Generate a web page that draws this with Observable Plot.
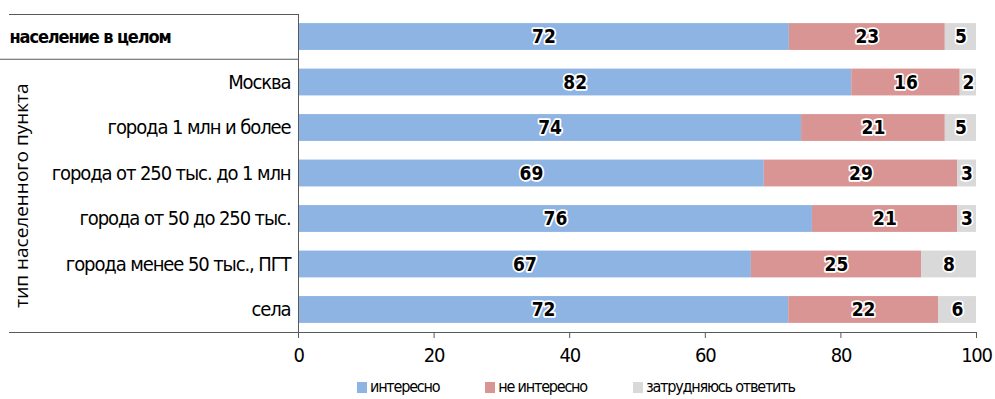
<!DOCTYPE html>
<html>
<head>
<meta charset="utf-8">
<script src="https://cdn.jsdelivr.net/npm/d3@7"></script>
<script src="https://cdn.jsdelivr.net/npm/@observablehq/plot@0.6"></script>
<style>
  body { margin: 0; background: #fff; }
  #chart { position: relative; width: 995px; height: 399px; overflow: hidden; }
  #chart svg { display: block; }
  .legend { position: absolute; left: 357px; top: 377px; display: flex; gap: 46px;
            font-family: "DejaVu Sans Condensed", "DejaVu Sans", sans-serif;
            font-stretch: condensed; font-size: 16px; letter-spacing: -1.2px; color: #000; line-height: 20px; }
  .legend .item { display: flex; align-items: center; }
  .legend .sw { width: 10px; height: 11px; margin-right: 3px; display: inline-block; }
</style>
</head>
<body>
<div id="chart"></div>
<script>
const categories = [
  "население в целом",
  "Москва",
  "города 1 млн и более",
  "города от 250 тыс. до 1 млн",
  "города от 50 до 250 тыс.",
  "города менее 50 тыс., ПГТ",
  "села"
];
const seriesNames = ["интересно", "не интересно", "затрудняюсь ответить"];
const seriesColors = ["#8EB4E3", "#D99594", "#D9D9D9"];
// bar lengths (percent)
const interested    = [72.4, 81.6, 74.2, 68.7, 75.8, 66.8, 72.3];
const notInterested = [23.0, 16.0, 21.2, 28.5, 21.4, 25.1, 22.1];
const hardToSay     = [4.6, 2.4, 4.6, 2.8, 2.8, 8.1, 5.6];
// printed labels
const labelsInterested    = [72, 82, 74, 69, 76, 67, 72];
const labelsNotInterested = [23, 16, 21, 29, 21, 25, 22];
const labelsHardToSay     = [5, 2, 5, 3, 3, 8, 6];
const xTicks = [0, 20, 40, 60, 80, 100];
const yTitle = "тип населенного пункта";

const COND = '"DejaVu Sans Condensed", "DejaVu Sans", sans-serif';
const seriesValues = [interested, notInterested, hardToSay];
const seriesLabels = [labelsInterested, labelsNotInterested, labelsHardToSay];
const table = [];
categories.forEach((c, i) => {
  seriesNames.forEach((s, j) => {
    table.push({category: c, series: s, value: seriesValues[j][i], label: seriesLabels[j][i]});
  });
});

const plot = Plot.plot({
  width: 995,
  height: 372,
  marginLeft: 298,
  marginRight: 19,
  marginTop: 14,
  marginBottom: 40,
  style: {fontFamily: COND, fontSize: "20px", color: "#000", background: "transparent", fontStretch: "condensed"},
  x: {domain: [0, 100], label: null},
  y: {domain: categories, paddingInner: 0.41, paddingOuter: 0.2, round: false, label: null},
  color: {domain: seriesNames, range: seriesColors},
  marks: [
    Plot.barX(table, {x: "value", y: "category", fill: "series", z: "series"}),
    Plot.text(table, Plot.stackX({x: "value", y: "category", z: "series", text: "label",
      fill: "#000", stroke: "#fff", strokeWidth: 3.5, fontSize: 19, fontWeight: 600, letterSpacing: -1})),
    Plot.ruleX([0], {stroke: "#595959", strokeWidth: 1}),
    Plot.axisX({ticks: xTicks, tickSize: 6, tickPadding: 9, stroke: "#595959", fontSize: 20, label: null}),
    Plot.axisY({ticks: categories.slice(1), tickSize: 0, tickPadding: 8, fontSize: 20, label: null}),
    Plot.axisY({ticks: categories.slice(0, 1), tickSize: 0, tickPadding: 289, textAnchor: "start",
      fontSize: 18, fontWeight: "bold", label: null})
  ]
});

// condensed look: tighten letter spacing of axis labels
d3.select(plot).selectAll("g[aria-label='y-axis tick label'] text").attr("letter-spacing", "-1.1px");
d3.select(plot).selectAll("g[aria-label='x-axis tick label'] text").attr("letter-spacing", "-1.2px");

// decoration lines and vertical title derived from the scales
const ys = plot.scale("y");
const xs = plot.scale("x");
const svg = d3.select(plot);
const yTop = ys.range[0];
const yBottom = ys.range[1];
const yStep = ys.step;
const ySep = ys.apply(categories[0]) + ys.bandwidth + (yStep - ys.bandwidth) / 2;
const px0 = xs.apply(0);
const px100 = xs.apply(100);
const g = svg.append("g").attr("stroke", "#595959").attr("stroke-width", 1.2);
g.append("line").attr("x1", 9).attr("x2", px0).attr("y1", yTop + 0.5).attr("y2", yTop + 0.5);
g.append("line").attr("x1", 0).attr("x2", px0).attr("y1", ySep).attr("y2", ySep);
g.append("line").attr("x1", 9).attr("x2", px100).attr("y1", yBottom + 0.5).attr("y2", yBottom + 0.5);
svg.append("text")
  .attr("transform", `translate(21,${(ySep + yBottom) / 2}) rotate(-90)`)
  .attr("text-anchor", "middle").attr("dominant-baseline", "central")
  .attr("font-family", '"Open Sans", "Noto Sans", sans-serif')
  .attr("font-size", 19).attr("font-stretch", "normal").attr("fill", "#000")
  .text(yTitle);

const chart = document.getElementById("chart");
chart.appendChild(plot);

const legend = document.createElement("div");
legend.className = "legend";
seriesNames.forEach((s, j) => {
  const it = document.createElement("div");
  it.className = "item";
  const sw = document.createElement("span");
  sw.className = "sw";
  sw.style.background = seriesColors[j];
  it.appendChild(sw);
  it.appendChild(document.createTextNode(s));
  legend.appendChild(it);
});
chart.appendChild(legend);
</script>
</body>
</html>
